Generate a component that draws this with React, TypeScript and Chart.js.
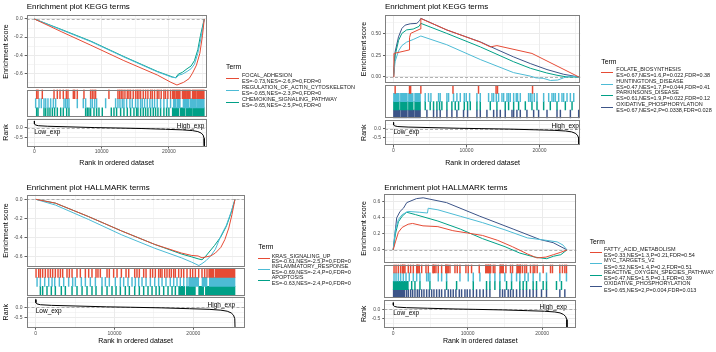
import React, { useEffect, useRef } from "react";
import { Chart, registerables } from "chart.js";

Chart.register(...registerables);

const FONT = "'Liberation Sans', Arial, Helvetica, sans-serif";
Chart.defaults.font.family = FONT;

type Pt = [number, number];
type Span = [number, number];

const RED = "#E64B35";
const BLUE = "#4DBBD5";
const GREEN = "#00A087";
const NAVY = "#3C5488";
const TICK_COLOR = "#4D4D4D";
const FRAME = "#808080";
const GRID = "#EBEBEB";

// ================= Panel A: KEGG (negative) =================
const A_TITLE = "Enrichment plot KEGG terms";
const A_TERMS = ["FOCAL_ADHESION", "REGULATION_OF_ACTIN_CYTOSKELETON", "CHEMOKINE_SIGNALING_PATHWAY"];
const A_STATS = ["ES=-0.73,NES=-2.6,P=0,FDR=0", "ES=-0.65,NES=-2.3,P=0,FDR=0", "ES=-0.65,NES=-2.5,P=0,FDR=0"];
const A_ES_FOCAL: Pt[] = [[0, 0], [4000, -0.14], [8400, -0.29], [13300, -0.46], [18300, -0.62], [20300, -0.7], [21200, -0.73], [22200, -0.7], [23000, -0.66], [23500, -0.6], [24100, -0.51], [24600, -0.38], [25000, -0.18], [25260, 0]];
const A_ES_ACTIN: Pt[] = [[0, 0], [4000, -0.12], [8400, -0.25], [13300, -0.42], [18300, -0.585], [20500, -0.645], [21100, -0.65], [21500, -0.62], [22000, -0.61], [22700, -0.58], [23300, -0.55], [23800, -0.5], [24300, -0.38], [24750, -0.22], [25260, 0]];
const A_ES_CHEMO: Pt[] = [[0, 0], [4000, -0.115], [8400, -0.245], [13300, -0.415], [18300, -0.58], [20500, -0.64], [21000, -0.65], [21400, -0.61], [22000, -0.59], [22700, -0.55], [23300, -0.52], [23800, -0.46], [24300, -0.34], [24700, -0.18], [25260, 0]];
const A_HITS_FOCAL = [350, 550, 1190, 2930, 3420, 3820, 4310, 4760, 5000, 5800, 6000, 6390, 7380, 8370, 8620, 8870, 9110, 11090, 12430, 12680, 12920, 13170, 13470, 13820, 14060, 14310, 14700, 15050, 15300, 15550, 15800, 16190, 16540, 16880, 17280, 17530, 17870, 18270, 18520, 18860, 19260, 19500, 19850, 20250];
const A_BLOCKS_FOCAL: Span[] = [[20500, 20900], [21000, 21700], [21950, 22500], [22600, 23200], [23450, 24100], [24200, 25260]];
const A_HITS_ACTIN = [200, 700, 1040, 1440, 1690, 2030, 2430, 2830, 3170, 4410, 4660, 4900, 5150, 6390, 7280, 7630, 8370, 8620, 8970, 9260, 10600, 12080, 12430, 12730, 13070, 13320, 13720, 14210, 14560, 15050, 15400, 15800, 16040, 16390, 16790, 17180, 17530, 17870, 18270, 18770, 19260, 19750, 20250];
const A_BLOCKS_ACTIN: Span[] = [[20650, 21100], [21250, 21700], [22100, 23000], [23150, 24000], [24100, 25260]];
const A_HITS_CHEMO = [350, 550, 1440, 1690, 2030, 2330, 2680, 3020, 3420, 3920, 4310, 4810, 5150, 7630, 7880, 8120, 8370, 8870, 9260, 9610, 10100, 11440, 11840, 12230, 12830, 13320, 13820, 14310, 14810, 15200, 15400, 15800, 16190, 16540, 16880, 17280, 17680, 18020, 18370, 18770, 19260, 19660, 20000];
const A_BLOCKS_CHEMO: Span[] = [[20500, 21500], [21700, 22400], [22550, 23500], [23600, 25260]];
const A_RANK: Pt[] = [[0, 0.37], [20, 0.22], [150, 0.16], [600, 0.12], [2000, 0.09], [5000, 0.06], [9000, 0.02], [12000, 0.0], [16000, -0.03], [19500, -0.07], [22000, -0.1], [23500, -0.14], [24300, -0.19], [24800, -0.27], [25100, -0.38], [25230, -0.55], [25260, -0.95]];
const A_ES_TICKS = [-0.6, -0.4, -0.2, 0];
const A_ES_LABELS = ["-0.6", "-0.4", "-0.2", "0.0"];

// ================= Panel B: KEGG (positive) =================
const B_TITLE = "Enrichment plot KEGG terms";
const B_TERMS = ["FOLATE_BIOSYNTHESIS", "HUNTINGTONS_DISEASE", "PARKINSONS_DISEASE", "OXIDATIVE_PHOSPHORYLATION"];
const B_STATS = ["ES=0.67,NES=1.6,P=0.022,FDR=0.38", "ES=0.47,NES=1.7,P=0.044,FDR=0.41", "ES=0.61,NES=1.9,P=0.022,FDR=0.12", "ES=0.67,NES=2,P=0.0338,FDR=0.028"];
const B_ES_FOLATE: Pt[] = [[0, 0], [60, 0.27], [2150, 0.31], [2200, 0.45], [2350, 0.5], [3650, 0.55], [3750, 0.67], [7320, 0.54], [11890, 0.4], [13260, 0.345], [14170, 0.36], [18970, 0.27], [25400, 0]];
const B_ES_HUNT: Pt[] = [[0, 0], [230, 0.18], [700, 0.3], [1150, 0.36], [1800, 0.4], [2700, 0.43], [3750, 0.47], [7300, 0.37], [11900, 0.2], [16450, 0.05], [18750, 0.01], [19500, -0.01], [20500, -0.015], [21500, -0.04], [22500, -0.035], [23300, -0.01], [24000, 0.01], [25400, 0]];
const B_ES_PARK: Pt[] = [[0, 0], [230, 0.25], [700, 0.42], [1150, 0.5], [1800, 0.54], [2700, 0.55], [3500, 0.58], [3750, 0.615], [7300, 0.5], [11900, 0.345], [16450, 0.175], [18750, 0.1], [21000, 0.046], [22400, 0.02], [23800, 0.0], [25400, 0]];
const B_ES_OXPHOS: Pt[] = [[0, 0], [230, 0.29], [690, 0.46], [1150, 0.557], [1600, 0.595], [2290, 0.61], [3200, 0.615], [3570, 0.645], [3750, 0.673], [7320, 0.538], [11890, 0.403], [14170, 0.315], [16460, 0.23], [18740, 0.154], [21030, 0.085], [23310, 0.031], [25400, 0]];
const B_HITS_FOLATE = [230, 2200, 2350, 3750, 8150, 11650, 14050, 14250, 19050];
const B_BLOCKS_FOLATE: Span[] = [];
const B_HITS_HUNT = [4350, 4800, 5130, 6180, 6400, 7320, 7550, 8230, 8690, 9150, 9700, 9970, 10430, 11430, 11890, 13030, 13490, 13720, 14080, 14400, 14860, 15090, 15550, 15770, 16000, 16460, 16820, 17000, 17370, 18510, 18740, 18970, 19290, 19660, 20570, 21260, 21710, 21940, 22170, 22630, 23080, 23310, 23770, 24230, 24690];
const B_BLOCKS_HUNT: Span[] = [[0, 800], [950, 1900], [2050, 2700], [2900, 3700]];
const B_HITS_PARK = [4350, 5030, 5490, 5950, 6310, 6630, 7320, 8000, 8460, 8920, 9700, 10150, 10520, 11430, 11890, 13260, 14170, 15310, 15770, 16460, 17140, 18060, 18970, 19660, 20570, 21480, 22400, 23540, 24460];
const B_BLOCKS_PARK: Span[] = [[0, 800], [950, 1900], [2050, 2700], [2900, 3700]];
const B_HITS_OXPHOS = [4580, 5490, 5950, 6400, 7320, 8000, 8690, 9600, 10150, 11430, 11890, 12800, 13720, 14170, 14630, 15310, 16230, 16460, 16910, 17370, 18280, 19200, 19880, 21030, 22400, 22860, 24230, 25370];
const B_BLOCKS_OXPHOS: Span[] = [[0, 900], [1000, 1900], [2050, 2800], [2900, 3700]];
const B_RANK: Pt[] = [[0, 0.36], [20, 0.22], [150, 0.16], [600, 0.12], [2000, 0.09], [5000, 0.06], [9000, 0.02], [12000, 0.0], [16000, -0.03], [19500, -0.07], [22000, -0.1], [23600, -0.14], [24400, -0.19], [24900, -0.27], [25200, -0.38], [25370, -0.55], [25400, -0.95]];
const B_ES_TICKS = [0, 0.25, 0.5];
const B_ES_LABELS = ["0.00", "0.25", "0.50"];

// ================= Panel C: HALLMARK (negative) =================
const C_TITLE = "Enrichment plot HALLMARK terms";
const C_TERMS = ["KRAS_SIGNALING_UP", "INFLAMMATORY_RESPONSE", "APOPTOSIS"];
const C_STATS = ["ES=-0.61,NES=-2.5,P=0,FDR=0", "ES=-0.69,NES=-2.4,P=0,FDR=0", "ES=-0.63,NES=-2.4,P=0,FDR=0"];
const C_ES_KRAS: Pt[] = [[0, 0], [2500, -0.04], [6700, -0.18], [10900, -0.33], [15100, -0.47], [18500, -0.56], [19800, -0.585], [20600, -0.59], [21100, -0.61], [21600, -0.6], [22200, -0.59], [22800, -0.56], [23500, -0.5], [24000, -0.42], [24500, -0.3], [24900, -0.16], [25290, 0]];
const C_ES_INFL: Pt[] = [[0, 0], [2500, -0.06], [6700, -0.21], [10900, -0.37], [15100, -0.51], [18500, -0.61], [19800, -0.655], [20700, -0.69], [21100, -0.67], [21600, -0.64], [22200, -0.59], [22800, -0.52], [23500, -0.38], [24200, -0.27], [24800, -0.13], [25290, 0]];
const C_ES_APOP: Pt[] = [[0, 0], [2500, -0.04], [6700, -0.18], [10900, -0.33], [15100, -0.47], [18500, -0.57], [19800, -0.6], [20600, -0.62], [21100, -0.63], [21500, -0.6], [21900, -0.56], [22700, -0.48], [23500, -0.39], [24200, -0.28], [24800, -0.14], [25290, 0]];
const C_HITS_KRAS = [40, 380, 590, 880, 1220, 1560, 1860, 2150, 2490, 2830, 3130, 3420, 3970, 4270, 4610, 5240, 5660, 6300, 6720, 7140, 7650, 7900, 8200, 9050, 9340, 9890, 10320, 10870, 11460, 11800, 12560, 12850, 13150, 13700, 14000, 14550, 14840, 15180, 15600, 15820, 16030, 16370, 16660, 16960, 17210, 17510, 17720, 18140, 18480, 18780, 19200, 19620, 19920, 20260, 20680, 21100, 21440, 21740];
const C_BLOCKS_KRAS: Span[] = [[21950, 22600], [22750, 25290]];
const C_HITS_INFL = [170, 590, 1140, 1650, 2070, 2410, 3000, 3550, 4180, 4690, 5030, 5790, 6300, 6930, 7570, 8410, 8840, 9340, 10100, 10740, 11160, 11710, 12220, 12640, 13070, 13490, 14000, 14550, 15100, 15600, 16030, 16530, 17080, 17510, 17930, 18350, 18780, 19200];
const C_BLOCKS_INFL: Span[] = [[19410, 20680], [21100, 21740], [22030, 25290]];
const C_HITS_APOP = [590, 880, 1430, 1980, 2490, 3250, 3760, 4610, 5240, 5880, 6510, 7140, 7650, 8410, 9050, 9680, 10190, 10740, 11370, 11880, 12560, 13150, 13700, 14250, 14760, 15270, 15690, 16240, 16790, 17300, 17720];
const C_BLOCKS_APOP: Span[] = [[18140, 18900], [19100, 20260], [20680, 21310], [21530, 25290]];
const C_RANK: Pt[] = [[0, 0.37], [20, 0.22], [150, 0.16], [600, 0.12], [2000, 0.09], [5000, 0.06], [9000, 0.02], [12000, 0.0], [16000, -0.03], [19500, -0.07], [22000, -0.1], [23500, -0.14], [24300, -0.19], [24800, -0.27], [25100, -0.38], [25260, -0.55], [25290, -0.95]];
const C_ES_TICKS = [-0.6, -0.4, -0.2, 0];
const C_ES_LABELS = ["-0.6", "-0.4", "-0.2", "0.0"];

// ================= Panel D: HALLMARK (positive) =================
const D_TITLE = "Enrichment plot HALLMARK terms";
const D_TERMS = ["FATTY_ACID_METABOLISM", "MYC_TARGETS_V2", "REACTIVE_OXYGEN_SPECIES_PATHWAY", "OXIDATIVE_PHOSPHORYLATION"];
const D_STATS = ["ES=0.33,NES=1.3,P=0.21,FDR=0.54", "ES=0.52,NES=1.4,P=0.2,FDR=0.51", "ES=0.47,NES=1.5,P=0.1,FDR=0.39", "ES=0.65,NES=2,P=0.004,FDR=0.013"];
const D_ES_FATTY: Pt[] = [[0, 0], [300, 0.1], [700, 0.22], [1200, 0.28], [2000, 0.32], [2600, 0.33], [4000, 0.3], [6000, 0.29], [8000, 0.24], [10000, 0.21], [12000, 0.18], [14000, 0.12], [16000, 0.04], [18000, -0.05], [19300, -0.1], [20500, -0.09], [21500, -0.06], [22500, -0.03], [23330, 0]];
const D_ES_MYC: Pt[] = [[0, 0], [300, 0.25], [700, 0.38], [1200, 0.44], [2000, 0.48], [3500, 0.47], [4600, 0.46], [4700, 0.52], [6000, 0.5], [9000, 0.42], [12000, 0.34], [15000, 0.25], [18000, 0.15], [20500, 0.12], [22000, 0.1], [22800, 0.06], [23330, 0]];
const D_ES_ROS: Pt[] = [[0, 0], [300, 0.2], [700, 0.35], [1200, 0.42], [1800, 0.47], [3000, 0.44], [6000, 0.36], [9000, 0.26], [12000, 0.14], [15000, 0.04], [17000, -0.04], [19000, -0.09], [20600, -0.11], [21500, -0.08], [22500, -0.06], [23330, 0]];
const D_ES_OXPHOS: Pt[] = [[0, 0], [470, 0.4], [920, 0.48], [1370, 0.52], [1820, 0.59], [3130, 0.64], [4030, 0.65], [7160, 0.59], [11630, 0.42], [16100, 0.26], [19680, 0.13], [21470, 0.09], [23330, 0]];
const D_HITS_FATTY = [110, 380, 690, 1000, 1270, 1580, 2030, 2340, 2700, 3240, 3500, 3820, 4400, 4710, 5380, 5740, 6050, 6500, 7080, 7390, 7620, 8290, 8600, 8960, 9760, 10070, 10520, 11550, 12440, 12760, 13070, 13430, 13650, 14410, 14770, 15130, 15750, 16020, 16650, 17090, 17360, 17670, 17900, 18430, 18790, 19010, 19330, 20130, 21120, 21380, 22370, 22720, 23040, 23260];
const D_BLOCKS_FATTY: Span[] = [[1200, 1500], [3100, 3400], [5300, 5600], [7000, 7300], [12400, 13100], [14300, 14800], [16600, 17100]];
const D_HITS_MYC = [110, 380, 690, 1000, 1360, 1720, 2160, 2700, 3150, 3590, 4490, 4710, 4930, 6050, 6500, 7170, 8960, 10070, 10750, 11640, 12980, 13650, 14320, 14990, 15890, 16560, 17000, 17670, 18120, 18790, 19690, 20580, 22370, 23260];
const D_BLOCKS_MYC: Span[] = [];
const D_HITS_ROS = [2480, 2920, 3590, 4930, 7170, 8510, 10750, 12530, 12980, 13650, 14320, 15220, 15890, 17000, 17450, 17900, 18790, 19240, 20130, 20580, 21920, 22590];
const D_BLOCKS_ROS: Span[] = [[0, 2030]];
const D_HITS_OXPHOS = [1800, 2030, 2340, 2610, 2920, 3240, 3500, 3820, 4130, 4490, 4840, 5160, 5470, 5830, 6190, 6500, 6950, 7390, 7710, 8060, 8420, 8870, 9180, 9630, 9940, 10300, 10750, 11190, 11640, 12090, 12530, 12980, 14320, 14680, 14990, 15440, 15750, 16110, 16560, 17000, 17450, 17900, 18340, 18790, 19240, 19910, 20580, 22370, 23040];
const D_BLOCKS_OXPHOS: Span[] = [[0, 1580]];
const D_RANK: Pt[] = [[0, 0.36], [20, 0.22], [150, 0.16], [550, 0.12], [1800, 0.09], [4600, 0.06], [8300, 0.02], [11000, 0.0], [14700, -0.03], [18000, -0.07], [20300, -0.1], [21700, -0.14], [22400, -0.19], [22850, -0.27], [23150, -0.38], [23300, -0.55], [23330, -0.95]];
const D_ES_TICKS = [0, 0.2, 0.4, 0.6];
const D_ES_LABELS = ["0.0", "0.2", "0.4", "0.6"];

// ================= shared axes =================
const X_TICKS = [0, 10000, 20000];
const X_LABELS = ["0", "10000", "20000"];
const RANK_TICKS = [-0.5, 0];
const RANK_LABELS = ["-0.5", "0.0"];

type Legend = { termX: number; termY: number; textX: number; first: number; pitch: number; gap: number; keyX0: number; keyX1: number };
type PanelSpec = {
  ox: number; oy: number; title: string; titleY: number;
  L: number; R: number; es: Span; rug: Span; rank: Span; xAxisH: number;
  xMin: number; xMax: number; esMin: number; esMax: number; esTicks: number[]; esLabels: string[];
  rankMin: number; rankMax: number;
  terms: string[]; stats: string[]; colors: string[];
  curves: Pt[][]; hits: number[][]; blocks: Span[][]; rankCurve: Pt[];
  legend: Legend;
};

const PANELS: PanelSpec[] = [
  {
    ox: 0, oy: 0, title: A_TITLE, titleY: 7,
    L: 26.7, R: 206.7, es: [15, 88], rug: [89.5, 117], rank: [118.5, 146.5], xAxisH: 20.9,
    xMin: -1130, xMax: 25620, esMin: -0.763, esMax: 0.044, esTicks: A_ES_TICKS, esLabels: A_ES_LABELS,
    rankMin: -0.98, rankMax: 0.5,
    terms: A_TERMS, stats: A_STATS, colors: [RED, BLUE, GREEN],
    curves: [A_ES_FOCAL, A_ES_ACTIN, A_ES_CHEMO],
    hits: [A_HITS_FOCAL, A_HITS_ACTIN, A_HITS_CHEMO], blocks: [A_BLOCKS_FOCAL, A_BLOCKS_ACTIN, A_BLOCKS_CHEMO],
    rankCurve: A_RANK,
    legend: { termX: 226, termY: 66.7, textX: 242, first: 75.3, pitch: 12, gap: 6.2, keyX0: 226, keyX1: 239 },
  },
  {
    ox: 358, oy: 0, title: B_TITLE, titleY: 7,
    L: 27, R: 222.3, es: [15, 83], rug: [85, 118.3], rank: [120, 145.5], xAxisH: 21.6,
    xMin: -1160, xMax: 25590, esMin: -0.069, esMax: 0.711, esTicks: B_ES_TICKS, esLabels: B_ES_LABELS,
    rankMin: -0.98, rankMax: 0.5,
    terms: B_TERMS, stats: B_STATS, colors: [RED, BLUE, GREEN, NAVY],
    curves: [B_ES_FOLATE, B_ES_HUNT, B_ES_PARK, B_ES_OXPHOS],
    hits: [B_HITS_FOLATE, B_HITS_HUNT, B_HITS_PARK, B_HITS_OXPHOS], blocks: [B_BLOCKS_FOLATE, B_BLOCKS_HUNT, B_BLOCKS_PARK, B_BLOCKS_OXPHOS],
    rankCurve: B_RANK,
    legend: { termX: 243.3, termY: 61.7, textX: 258.3, first: 69.3, pitch: 11.7, gap: 6, keyX0: 243.3, keyX1: 255.5 },
  },
  {
    ox: 0, oy: 176, title: C_TITLE, titleY: 11.7,
    L: 26.5, R: 244.7, es: [18.5, 90.5], rug: [92.3, 119.5], rank: [120.8, 151.7], xAxisH: 17.4,
    xMin: -1170, xMax: 26520, esMin: -0.7, esMax: 0.05, esTicks: C_ES_TICKS, esLabels: C_ES_LABELS,
    rankMin: -0.98, rankMax: 0.5,
    terms: C_TERMS, stats: C_STATS, colors: [RED, BLUE, GREEN],
    curves: [C_ES_KRAS, C_ES_INFL, C_ES_APOP],
    hits: [C_HITS_KRAS, C_HITS_INFL, C_HITS_APOP], blocks: [C_BLOCKS_KRAS, C_BLOCKS_INFL, C_BLOCKS_APOP],
    rankCurve: C_RANK,
    legend: { termX: 258.3, termY: 70.7, textX: 271.7, first: 80, pitch: 10.9, gap: 5.8, keyX0: 258.3, keyX1: 270 },
  },
  {
    ox: 358, oy: 176, title: D_TITLE, titleY: 11.7,
    L: 26.3, R: 218.3, es: [18.2, 86.7], rug: [88.5, 122], rank: [124, 151.7], xAxisH: 17.4,
    xMin: -1195, xMax: 24580, esMin: -0.16, esMax: 0.695, esTicks: D_ES_TICKS, esLabels: D_ES_LABELS,
    rankMin: -0.98, rankMax: 0.5,
    terms: D_TERMS, stats: D_STATS, colors: [RED, BLUE, GREEN, NAVY],
    curves: [D_ES_FATTY, D_ES_MYC, D_ES_ROS, D_ES_OXPHOS],
    hits: [D_HITS_FATTY, D_HITS_MYC, D_HITS_ROS, D_HITS_OXPHOS], blocks: [D_BLOCKS_FATTY, D_BLOCKS_MYC, D_BLOCKS_ROS, D_BLOCKS_OXPHOS],
    rankCurve: D_RANK,
    legend: { termX: 231.7, termY: 65, textX: 246, first: 73.3, pitch: 11.5, gap: 6.3, keyX0: 231.7, keyX1: 244 },
  },
];

// ================= helpers =================
function allTicks(major: number[], min: number, max: number): number[] {
  const step = major[1] - major[0];
  const half = step / 2;
  const start = major[0] - 8 * step;
  const out: number[] = [];
  for (let i = 0; i <= 2 * (major.length + 16); i++) {
    const v = +(start + i * half).toFixed(6);
    if (v >= min && v <= max) out.push(v);
  }
  return out;
}
const idxOf = (arr: number[], v: number) => arr.findIndex((a) => Math.abs(a - v) < 1e-6);

function gridOpts(major: number[], drawTicks: boolean) {
  return {
    color: GRID,
    lineWidth: (c: any) => (c.tick && idxOf(major, c.tick.value) >= 0 ? 1 : 0.5),
    drawTicks,
    tickLength: 2,
    tickWidth: 0.8,
    tickColor: (c: any) => (c.tick && idxOf(major, c.tick.value) >= 0 ? "#333333" : "rgba(0,0,0,0)"),
  };
}

function xScale(p: PanelSpec, show: boolean) {
  const ticks = allTicks(X_TICKS, p.xMin, p.xMax);
  return {
    type: "linear",
    min: p.xMin,
    max: p.xMax,
    afterBuildTicks: (s: any) => { s.ticks = ticks.map((v) => ({ value: v })); },
    afterFit: (s: any) => { s.height = show ? p.xAxisH : 0; s.paddingLeft = 0; s.paddingRight = 0; },
    ticks: {
      display: show, autoSkip: false, maxRotation: 0, minRotation: 0, padding: 0.5,
      font: { size: 5 }, color: TICK_COLOR,
      callback: (v: any) => { const i = idxOf(X_TICKS, Number(v)); return i >= 0 ? X_LABELS[i] : ""; },
    },
    grid: gridOpts(X_TICKS, show),
    border: { display: false },
    title: show
      ? { display: true, text: "Rank in ordered dataset", font: { size: 7 }, color: "#000", padding: { top: 0, bottom: 0 } }
      : { display: false },
  };
}

function yScale(major: number[], labels: string[], min: number, max: number, L: number, title: string) {
  const ticks = allTicks(major, min, max);
  return {
    type: "linear",
    min,
    max,
    afterBuildTicks: (s: any) => { s.ticks = ticks.map((v) => ({ value: v })); },
    afterFit: (s: any) => { s.width = L; s.paddingTop = 0; s.paddingBottom = 0; },
    ticks: {
      autoSkip: false, padding: 2, font: { size: 5 }, color: TICK_COLOR,
      callback: (v: any) => { const i = idxOf(major, Number(v)); return i >= 0 ? labels[i] : ""; },
    },
    grid: gridOpts(major, true),
    border: { display: false },
    title: { display: true, text: title, font: { size: 7 }, color: "#000", padding: { top: 2, bottom: 0 } },
  };
}

const framePlugin = {
  id: "frame",
  afterDraw(chart: any) {
    const { ctx, chartArea: a } = chart;
    const l = Math.round(a.left), t = Math.round(a.top), r = Math.round(a.right), b = Math.round(a.bottom);
    ctx.save();
    ctx.strokeStyle = FRAME;
    ctx.lineWidth = 1;
    ctx.strokeRect(l + 0.5, t + 0.5, r - l - 1, b - t - 1);
    ctx.restore();
  },
};

const zeroLinePlugin = {
  id: "zeroLine",
  beforeDatasetsDraw(chart: any) {
    const { ctx, chartArea: a } = chart;
    const y = Math.round(chart.scales.y.getPixelForValue(0)) + 0.5;
    ctx.save();
    ctx.strokeStyle = "#9E9E9E";
    ctx.lineWidth = 0.8;
    ctx.setLineDash([3, 2]);
    ctx.beginPath();
    ctx.moveTo(a.left, y);
    ctx.lineTo(a.right, y);
    ctx.stroke();
    ctx.restore();
  },
};

function titlePlugin(text: string, x: number, y: number) {
  return {
    id: "panelTitle",
    afterDraw(chart: any) {
      const { ctx } = chart;
      ctx.save();
      ctx.font = `8px ${FONT}`;
      ctx.fillStyle = "#000";
      ctx.textAlign = "left";
      ctx.textBaseline = "middle";
      ctx.fillText(text, x, y);
      ctx.restore();
    },
  };
}

function expPlugin(xEnd: number) {
  return {
    id: "expLabels",
    afterDatasetsDraw(chart: any) {
      const { ctx } = chart;
      const xs = chart.scales.x, ys = chart.scales.y;
      const y0 = ys.getPixelForValue(0);
      ctx.save();
      ctx.font = `6.5px ${FONT}`;
      ctx.fillStyle = "#000";
      ctx.textAlign = "left";
      ctx.textBaseline = "top";
      ctx.fillText("Low_exp", xs.getPixelForValue(0), y0 + 0.8);
      ctx.textAlign = "right";
      ctx.textBaseline = "alphabetic";
      ctx.fillText("High_exp", xs.getPixelForValue(xEnd), y0 - 0.2);
      ctx.restore();
    },
  };
}

const BASE = { animation: false, responsive: false, maintainAspectRatio: false, events: [] as string[] };
const NO_PLUG = { legend: { display: false }, tooltip: { enabled: false } };

function esConfig(p: PanelSpec, top: number, h: number, W: number) {
  return {
    type: "line",
    data: {
      datasets: p.curves.map((c, i) => ({
        data: c.map(([x, y]) => ({ x, y })),
        borderColor: p.colors[i], borderWidth: 1, pointRadius: 0, tension: 0, fill: false,
      })),
    },
    options: {
      ...BASE,
      layout: { padding: { left: 0, right: W - p.R, top: p.es[0] - top, bottom: top + h - p.es[1] } },
      plugins: NO_PLUG,
      scales: { x: xScale(p, false), y: yScale(p.esTicks, p.esLabels, p.esMin, p.esMax, p.L, "Enrichment score") },
    },
    plugins: [zeroLinePlugin, framePlugin, titlePlugin(p.title, p.L, p.titleY - top)],
  };
}

function rugConfig(p: PanelSpec, top: number, h: number, W: number) {
  const hw = (0.4 * (p.xMax - p.xMin)) / (p.R - p.L);
  return {
    type: "bar",
    data: {
      labels: p.terms,
      datasets: p.terms.map((t, i) => ({
        data: [
          ...p.hits[i].map((v) => ({ y: t, x: [v - hw, v + hw] })),
          ...p.blocks[i].map((b) => ({ y: t, x: [b[0], b[1]] })),
        ],
        backgroundColor: p.colors[i],
        borderWidth: 0,
        grouped: false,
        categoryPercentage: 1,
        barPercentage: 1,
      })),
    },
    options: {
      ...BASE,
      indexAxis: "y",
      layout: { padding: { left: p.L, right: W - p.R, top: p.rug[0] - top, bottom: top + h - p.rug[1] } },
      plugins: NO_PLUG,
      scales: {
        x: { type: "linear", min: p.xMin, max: p.xMax, display: false },
        y: { type: "category", display: false },
      },
    },
    plugins: [framePlugin],
  };
}

function rankConfig(p: PanelSpec, top: number, h: number, W: number) {
  const xEnd = p.rankCurve[p.rankCurve.length - 1][0];
  return {
    type: "line",
    data: {
      datasets: [{
        data: p.rankCurve.map(([x, y]) => ({ x, y })),
        borderColor: "#000", borderWidth: 1, pointRadius: 0, tension: 0, fill: false,
      }],
    },
    options: {
      ...BASE,
      layout: { padding: { left: 0, right: W - p.R, top: p.rank[0] - top, bottom: top + h - (p.rank[1] + p.xAxisH) } },
      plugins: NO_PLUG,
      scales: { x: xScale(p, true), y: yScale(RANK_TICKS, RANK_LABELS, p.rankMin, p.rankMax, p.L, "Rank") },
    },
    plugins: [zeroLinePlugin, framePlugin, expPlugin(xEnd)],
  };
}

function ChartCanvas({ x, y, w, h, make }: { x: number; y: number; w: number; h: number; make: () => any }) {
  const ref = useRef<HTMLCanvasElement>(null);
  useEffect(() => {
    const chart = new Chart(ref.current as HTMLCanvasElement, make());
    return () => chart.destroy();
  }, []);
  return <canvas ref={ref} width={w} height={h} style={{ position: "absolute", left: x, top: y, width: w, height: h }} />;
}

function Panel({ p }: { p: PanelSpec }) {
  const W = Math.ceil(p.R) + 2;
  const esT = 0;
  const esH = Math.ceil(p.es[1]) + 1 - esT;
  const rugT = Math.floor(p.rug[0]) - 1;
  const rugH = Math.ceil(p.rug[1]) + 1 - rugT;
  const rkT = Math.floor(p.rank[0]) - 1;
  const rkH = Math.ceil(p.rank[1] + p.xAxisH) + 1 - rkT;
  const lg = p.legend;
  const LH = 7;
  return (
    <div style={{ position: "absolute", left: p.ox, top: p.oy, width: 358, height: 176 }}>
      <ChartCanvas x={0} y={esT} w={W} h={esH} make={() => esConfig(p, esT, esH, W)} />
      <ChartCanvas x={0} y={rugT} w={W} h={rugH} make={() => rugConfig(p, rugT, rugH, W)} />
      <ChartCanvas x={0} y={rkT} w={W} h={rkH} make={() => rankConfig(p, rkT, rkH, W)} />
      <div style={{ position: "absolute", left: lg.termX, top: lg.termY - 4.5, fontSize: 6.8, lineHeight: "9px", color: "#000", whiteSpace: "nowrap" }}>Term</div>
      {p.terms.map((t, i) => {
        const c1 = lg.first + i * lg.pitch;
        const c2 = c1 + lg.gap;
        const mid = (c1 + c2) / 2;
        return (
          <React.Fragment key={t}>
            <div style={{ position: "absolute", left: lg.keyX0, top: mid - 0.5, width: lg.keyX1 - lg.keyX0, height: 1, background: p.colors[i] }} />
            <div style={{ position: "absolute", left: lg.textX, top: c1 - LH / 2, fontSize: 5.5, lineHeight: `${LH}px`, color: "#1A1A1A", whiteSpace: "nowrap" }}>{t}</div>
            <div style={{ position: "absolute", left: lg.textX, top: c2 - LH / 2, fontSize: 5.5, lineHeight: `${LH}px`, color: "#1A1A1A", whiteSpace: "nowrap" }}>{p.stats[i]}</div>
          </React.Fragment>
        );
      })}
    </div>
  );
}

export default function App() {
  return (
    <div style={{ position: "absolute", left: 0, top: 0, width: 716, height: 352, background: "#fff", overflow: "hidden", fontFamily: FONT }}>
      {PANELS.map((p, i) => (
        <Panel key={i} p={p} />
      ))}
    </div>
  );
}
